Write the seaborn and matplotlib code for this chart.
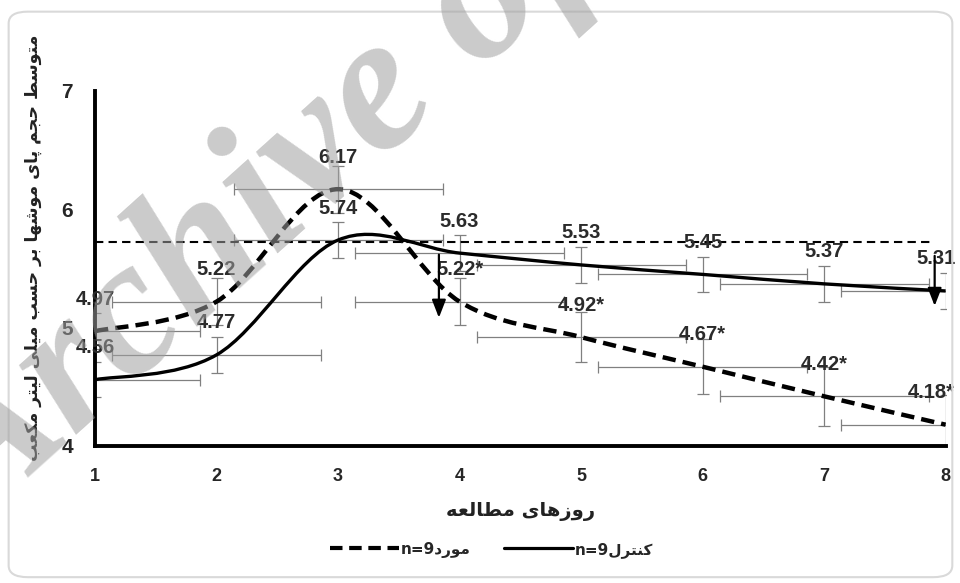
import numpy as np
import matplotlib
matplotlib.use('Agg')
import matplotlib.pyplot as plt
import seaborn as sns
from matplotlib.path import Path
from matplotlib.patches import PathPatch, FancyBboxPatch
from matplotlib.lines import Line2D

# Data
days = [1, 2, 3, 4, 5, 6, 7, 8]
case_mean = [4.97, 5.22, 6.17, 5.22, 4.92, 4.67, 4.42, 4.18]
control_mean = [4.56, 4.77, 5.74, 5.63, 5.53, 5.45, 5.37, 5.31]
case_err = [0.15, 0.2, 0.2, 0.2, 0.21, 0.23, 0.25, 0.25]
control_err = [0.15, 0.15, 0.15, 0.15, 0.15, 0.15, 0.15, 0.15]
day_err = 0.86
case_labels = ['4.97', '5.22', '6.17', '5.22*', '4.92*', '4.67*', '4.42*', '4.18*']
control_labels = ['4.56', '4.77', '5.74', '5.63', '5.53', '5.45', '5.37', '5.31']
baseline_x = [1, 7.87]
baseline_y = [5.72, 5.72]
# downward arrows (x, y_start, y_end)
arrows = [(3.83, 5.64, 5.06), (7.91, 5.63, 5.16)]

ylabel = 'متوسط حجم پای موشها بر حسب میلی لیتر مکعب'
xlabel = 'روزهای مطالعه'
case_name = 'مورد'
control_name = 'کنترل'

# Persian letter forms: isolated, final, initial, medial
FORMS = {
    'ا': ('\ufe8d', '\ufe8e', None, None),
    'ب': ('\ufe8f', '\ufe90', '\ufe91', '\ufe92'),
    'پ': ('\ufb56', '\ufb57', '\ufb58', '\ufb59'),
    'ت': ('\ufe95', '\ufe96', '\ufe97', '\ufe98'),
    'ج': ('\ufe9d', '\ufe9e', '\ufe9f', '\ufea0'),
    'ح': ('\ufea1', '\ufea2', '\ufea3', '\ufea4'),
    'د': ('\ufea9', '\ufeaa', None, None),
    'ر': ('\ufead', '\ufeae', None, None),
    'ز': ('\ufeaf', '\ufeb0', None, None),
    'س': ('\ufeb1', '\ufeb2', '\ufeb3', '\ufeb4'),
    'ش': ('\ufeb5', '\ufeb6', '\ufeb7', '\ufeb8'),
    'ط': ('\ufec1', '\ufec2', '\ufec3', '\ufec4'),
    'ع': ('\ufec9', '\ufeca', '\ufecb', '\ufecc'),
    'ک': ('\ufb8e', '\ufb8f', '\ufb90', '\ufb91'),
    'ل': ('\ufedd', '\ufede', '\ufedf', '\ufee0'),
    'م': ('\ufee1', '\ufee2', '\ufee3', '\ufee4'),
    'ن': ('\ufee5', '\ufee6', '\ufee7', '\ufee8'),
    'ه': ('\ufee9', '\ufeea', '\ufeeb', '\ufeec'),
    'و': ('\ufeed', '\ufeee', None, None),
    'ی': ('\ufbfc', '\ufbfd', '\ufbfe', '\ufbff'),
}


def shape(text):
    # join letters and put them in visual (left-to-right) order
    out = []
    for i, ch in enumerate(text):
        f = FORMS.get(ch)
        if f is None:
            out.append(ch)
            continue
        prev = text[i - 1] if i > 0 else ''
        nxt = text[i + 1] if i + 1 < len(text) else ''
        jp = prev in FORMS and FORMS[prev][2] is not None
        jn = nxt in FORMS and f[2] is not None
        if jp and jn:
            out.append(f[3])
        elif jp:
            out.append(f[1])
        elif jn:
            out.append(f[2])
        else:
            out.append(f[0])
    return ''.join(reversed(out))


def smooth_path(xs, ys):
    # Excel-like smoothed line as cubic Bezier segments
    pts = np.column_stack([xs, ys]).astype(float)
    n = len(pts)
    verts = [pts[0]]
    codes = [Path.MOVETO]
    for i in range(n - 1):
        p0 = pts[max(i - 1, 0)]
        p1 = pts[i]
        p2 = pts[i + 1]
        p3 = pts[min(i + 2, n - 1)]
        verts += [p1 + (p2 - p0) / 6, p2 - (p3 - p1) / 6, p2]
        codes += [Path.CURVE4] * 3
    return Path(verts, codes)


sns.set_theme(style='white')
plt.rcParams['font.family'] = ['Liberation Sans', 'DejaVu Sans']

fig = plt.figure(figsize=(9.6, 5.83), dpi=100)
ax = fig.add_axes([0.099, 0.235, 0.886, 0.609])

# error bars
ax.errorbar(days, control_mean, yerr=control_err, xerr=day_err, fmt='none',
            ecolor='#808080', elinewidth=0.9, capsize=4, capthick=0.9, zorder=1)
ax.errorbar(days, case_mean, yerr=case_err, xerr=day_err, fmt='none',
            ecolor='#808080', elinewidth=0.9, capsize=4, capthick=0.9, zorder=1)

# reference line
sns.lineplot(x=baseline_x, y=baseline_y, ax=ax, color='black', lw=1.5,
             linestyle=(0, (4, 2.5)), zorder=2)

# smoothed series
ax.add_patch(PathPatch(smooth_path(days, control_mean), fill=False, edgecolor='black',
                       lw=2.4, transform=ax.transData, zorder=3))
ax.add_patch(PathPatch(smooth_path(days, case_mean), fill=False, edgecolor='black',
                       lw=3.2, linestyle=(0, (3, 1.6)), transform=ax.transData, zorder=3))

for x, y0, y1 in arrows:
    ax.annotate('', xy=(x, y1), xytext=(x, y0),
                arrowprops=dict(arrowstyle='-|>,head_width=0.35,head_length=0.9',
                                color='black', lw=1.6), zorder=4)

for x, y, lab in zip(days, control_mean, control_labels):
    dx = -10 if x == days[-1] else 0
    ax.annotate(lab, (x, y), xytext=(dx, 32), textcoords='offset pixels', ha='center',
                va='center', fontsize=14.5, fontweight='bold', color='#2b2b2b')
for x, y, lab in zip(days, case_mean, case_labels):
    dx = -14 if x == days[-1] else 0
    ax.annotate(lab, (x, y), xytext=(dx, 32), textcoords='offset pixels', ha='center',
                va='center', fontsize=14.5, fontweight='bold', color='#2b2b2b')

ax.set_xlim(1, 8)
ax.set_ylim(4, 7)
ax.set_xticks(days)
ax.set_yticks([4, 5, 6, 7])
ax.set_xlabel('')
ax.set_ylabel('')
for s in ['top', 'right']:
    ax.spines[s].set_visible(False)
for s in ['left', 'bottom']:
    ax.spines[s].set_linewidth(2.8)
    ax.spines[s].set_color('black')
ax.tick_params(axis='x', direction='in', length=7, width=2.5, pad=16, labelsize=13)
ax.tick_params(axis='y', direction='in', length=5, width=2.5, pad=16, labelsize=15)
for t in ax.get_xticklabels() + ax.get_yticklabels():
    t.set_fontweight('bold')
ax.set_facecolor('white')

fig.text(0.034, 0.575, shape(ylabel), rotation=90, ha='center', va='center',
         fontsize=12.5, fontweight='bold', family=['DejaVu Sans'], color='#222222')
fig.text(0.542, 0.122, shape(xlabel), ha='center', va='center',
         fontsize=14, fontweight='bold', family=['DejaVu Sans'], color='#222222')

handles = [Line2D([], [], color='black', lw=3, linestyle=(0, (3, 1.6))),
           Line2D([], [], color='black', lw=2.3)]
labels = ['n=9' + shape(case_name), 'n=9' + shape(control_name)]
fig.legend(handles, labels, loc='center', bbox_to_anchor=(0.512, 0.057), ncol=2,
           frameon=False, handlelength=4.5, handletextpad=0.1, columnspacing=2.2,
           prop={'family': 'DejaVu Sans', 'size': 11, 'weight': 'bold'})

# chart area border
fig.patches.append(FancyBboxPatch((0.009, 0.01), 0.983, 0.97,
                                  boxstyle='round,pad=0,rounding_size=0.02',
                                  transform=fig.transFigure, fill=False,
                                  edgecolor='#d9d9d9', lw=1.5))

# watermark
fig.text(0.27, 0.63, 'Archive of', rotation=42, ha='center', va='center',
         fontsize=140, family=['Liberation Serif'], style='italic', fontweight='bold',
         color='#a0a0a0', alpha=0.55, zorder=10)

fig.savefig('out.png', dpi=100)
